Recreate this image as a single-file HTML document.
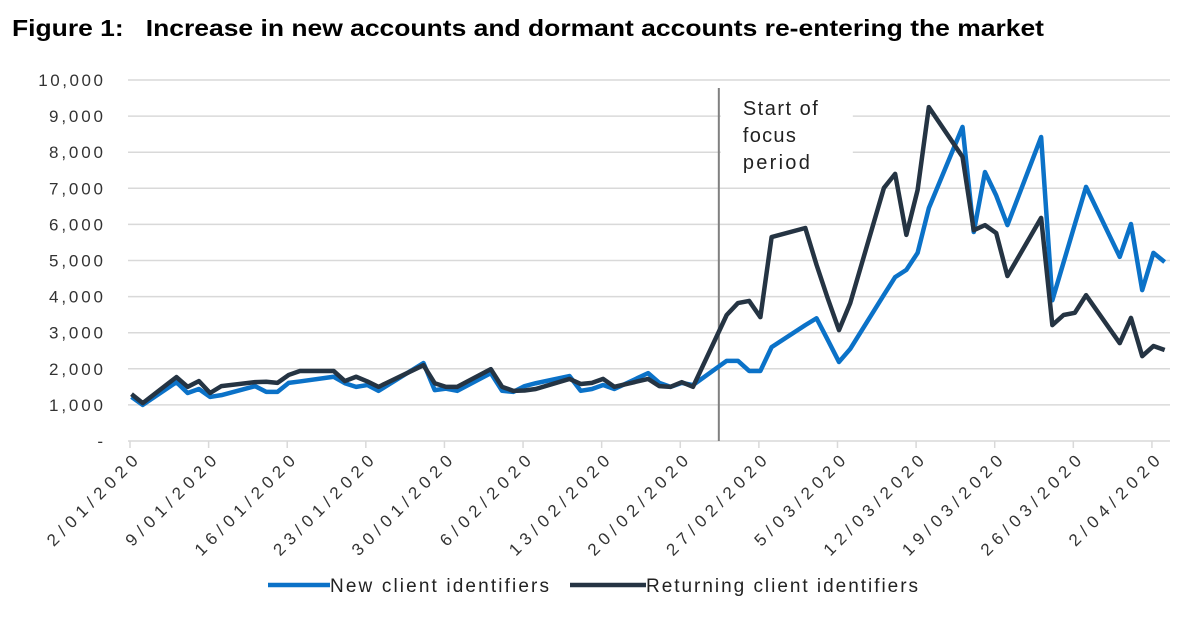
<!DOCTYPE html>
<html><head><meta charset="utf-8"><style>
body{margin:0;background:#fff;width:1194px;height:612px;overflow:hidden;font-family:"Liberation Sans",sans-serif}
</style></head><body>
<svg width="1194" height="612" xmlns="http://www.w3.org/2000/svg">
<text x="12" y="36" font-size="23" font-weight="bold" fill="#000" textLength="1032" lengthAdjust="spacingAndGlyphs" xml:space="preserve">Figure 1:   Increase in new accounts and dormant accounts re-entering the market</text>
<g id="grid"></g><g id="axes"></g><g id="series"></g>
<g>
<line x1="268" y1="585" x2="330" y2="585" stroke="#0b72c8" stroke-width="4.5"/>
<text x="330" y="592" font-size="19" fill="#222" textLength="219" lengthAdjust="spacing">New client identifiers</text>
<line x1="570" y1="585" x2="646" y2="585" stroke="#253443" stroke-width="4.5"/>
<text x="646" y="592" font-size="19" fill="#222" textLength="272" lengthAdjust="spacing">Returning client identifiers</text>
</g>
</svg>
<script>
const days=[0,1,4,5,6,7,8,11,12,13,14,15,18,19,20,21,22,26,27,28,29,32,33,34,35,36,39,40,41,42,43,46,47,48,49,50,53,54,55,56,57,60,61,62,63,64,67,68,69,70,71,74,75,76,77,78,81,82,83,84,85,88,89,90,91,92];
const newClients=[1220,1000,1630,1330,1440,1220,1270,1520,1360,1360,1610,1650,1780,1600,1500,1550,1390,2160,1410,1450,1390,1880,1390,1360,1520,1600,1800,1390,1440,1550,1440,1880,1610,1500,1610,1550,2220,2220,1940,1940,2600,3210,3400,2800,2190,2550,4050,4540,4740,5210,6450,8700,5790,7450,6800,5980,8420,3900,4950,6000,7040,5100,6010,4180,5210,4960];
const returningClients=[1300,1050,1770,1500,1660,1330,1520,1630,1640,1610,1830,1940,1940,1660,1780,1650,1500,2100,1600,1500,1500,1990,1500,1390,1400,1440,1720,1580,1610,1720,1500,1720,1520,1500,1630,1500,3490,3820,3880,3430,5650,5900,4880,3950,3070,3820,7010,7400,5710,6950,9250,7870,5840,5980,5760,4570,6180,3210,3490,3550,4040,2710,3410,2350,2630,2520];
const yTicks=[0,1000,2000,3000,4000,5000,6000,7000,8000,9000,10000];
const yTickLabels=["-","1,000","2,000","3,000","4,000","5,000","6,000","7,000","8,000","9,000","10,000"];
const xTickDays=[0,7,14,21,28,35,42,49,56,63,70,77,84,91];
const xTickLabels=["2/01/2020","9/01/2020","16/01/2020","23/01/2020","30/01/2020","6/02/2020","13/02/2020","20/02/2020","27/02/2020","5/03/2020","12/03/2020","19/03/2020","26/03/2020","2/04/2020"];
const focusDay=52.3;
const NS="http://www.w3.org/2000/svg";
const X=d=>131.5+d*11.23, Y=v=>441-v*0.0361;
function mk(tag,attrs,parent){const e=document.createElementNS(NS,tag);for(const k in attrs)e.setAttribute(k,attrs[k]);parent.appendChild(e);return e;}
const grid=document.getElementById('grid'),axes=document.getElementById('axes'),ser=document.getElementById('series');
yTicks.forEach((v,i)=>{
 if(v>0){const g=mk('line',{x1:128,x2:1170,y1:Y(v),y2:Y(v),stroke:'#d9d9d9','stroke-width':1.5},grid);
 
 }
 const lbl=yTickLabels[i];
 const attrs={x:103,y:Y(v)+6,'text-anchor':'end','font-size':17,fill:'#333'};
 if(lbl.length>1){attrs.textLength=lbl.length*10.8;attrs.lengthAdjust='spacing';}
 const t=mk('text',attrs,axes);t.textContent=lbl;
 
 
});
const ax=mk('line',{x1:128,x2:1170,y1:441,y2:441,stroke:'#d9d9d9','stroke-width':1.5},axes);


xTickDays.forEach((d,i)=>{
 const x=X(d)-1.5;
 const tk=mk('line',{x1:x,x2:x,y1:441,y2:448,stroke:'#d9d9d9','stroke-width':1.5},axes);
 
 
 const lbl=xTickLabels[i];
 const t=mk('text',{x:x+9,y:462,'text-anchor':'end','font-size':17,fill:'#333',textLength:lbl.length*13.4,lengthAdjust:'spacing',transform:`rotate(-45 ${x+9} 462)`},axes);t.textContent=lbl;
 
 
});
const fx=X(focusDay);
const fl=mk('line',{x1:fx,x2:fx,y1:88,y2:441,stroke:'#808080','stroke-width':2},axes);


const bx=mk('rect',{x:fx+2,y:88,width:132,height:90,fill:'#fff'},axes);


[["Start of",75],["focus",53],["period",67]].forEach((s,i)=>{const t=mk('text',{x:fx+24,y:115+i*27,'font-size':20,fill:'#222',textLength:s[1],lengthAdjust:'spacing'},axes);t.textContent=s[0];
 
 });
function line(vals,color,name){const p=mk('polyline',{points:days.map((d,i)=>X(d)+','+Y(vals[i])).join(' '),fill:'none',stroke:color,'stroke-width':4.5,'stroke-linejoin':'round'},ser);
 
 }
line(newClients,'#0b72c8','new-client-line');
line(returningClients,'#253443','returning-client-line');
</script>
</body></html>
